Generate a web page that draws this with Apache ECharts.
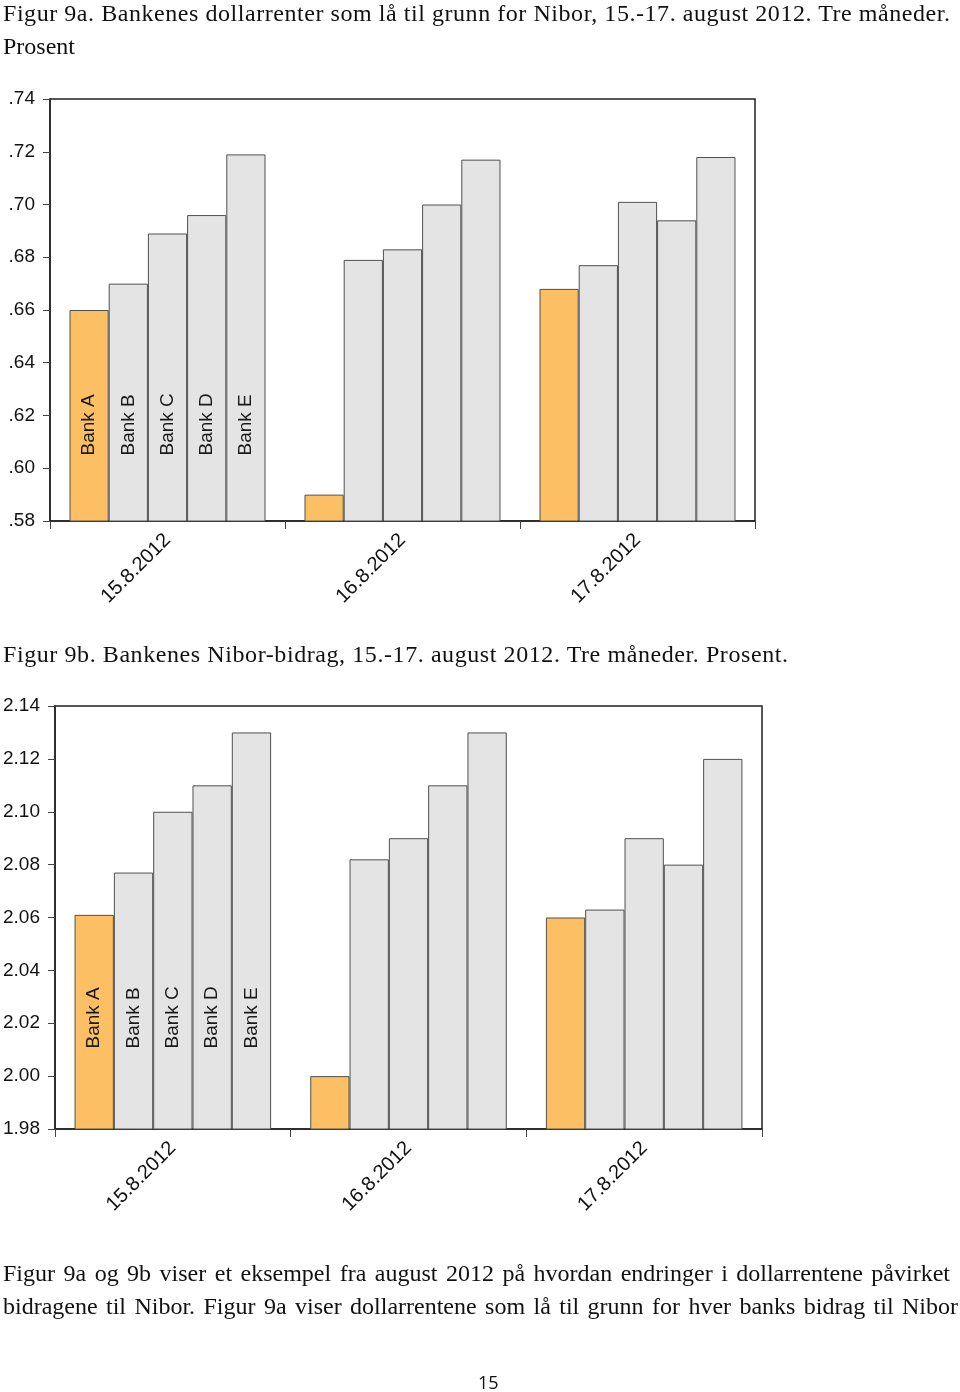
<!DOCTYPE html>
<html>
<head>
<meta charset="utf-8">
<script src="https://cdn.jsdelivr.net/npm/echarts@6/dist/echarts.min.js"></script>
<style>
body { margin: 0; background: #fff; }
#main { position: absolute; left: 0; top: 0; width: 960px; height: 1392px; }
.txt { position: absolute; left: 3px; font-family: "Liberation Serif", serif; font-size: 24px; color: #111; white-space: nowrap; line-height: 26px; }
.page { position: absolute; left: 478px; top: 1370px; font-family: "Open Sans", sans-serif; font-size: 18px; color: #111; }
</style>
</head>
<body>
<div id="main"></div>
<span class="txt" data-w="947" data-mode="letter" style="top:0px">Figur 9a. Bankenes dollarrenter som lå til grunn for Nibor, 15.-17. august 2012. Tre måneder.</span>
<span class="txt" style="top:33px">Prosent</span>
<span class="txt" data-w="785" data-mode="letter" style="top:641px">Figur 9b. Bankenes Nibor-bidrag, 15.-17. august 2012. Tre måneder. Prosent.</span>
<span class="txt" data-w="947" data-mode="word" style="top:1260px">Figur 9a og 9b viser et eksempel fra august 2012 på hvordan endringer i dollarrentene påvirket</span>
<span class="txt" data-w="955" data-mode="word" style="top:1293px">bidragene til Nibor. Figur 9a viser dollarrentene som lå til grunn for hver banks bidrag til Nibor</span>
<span class="page">15</span>
<script>
// kategorier og banker
var dates = ['15.8.2012', '16.8.2012', '17.8.2012'];
var banks = ['Bank A', 'Bank B', 'Bank C', 'Bank D', 'Bank E'];

// Figur 9a: dollarrenter (en liste per bank, verdier per dato)
var rate9aA = [0.660, 0.590, 0.668];
var rate9aB = [0.670, 0.679, 0.677];
var rate9aC = [0.689, 0.683, 0.701];
var rate9aD = [0.696, 0.700, 0.694];
var rate9aE = [0.719, 0.717, 0.718];

// Figur 9b: Nibor-bidrag
var rate9bA = [2.061, 2.000, 2.060];
var rate9bB = [2.077, 2.082, 2.063];
var rate9bC = [2.100, 2.090, 2.090];
var rate9bD = [2.110, 2.110, 2.080];
var rate9bE = [2.130, 2.130, 2.120];

// strekk tekstlinjene til samme bredde som i originalen
document.querySelectorAll('.txt[data-w]').forEach(function (el) {
    var target = +el.getAttribute('data-w');
    var w = el.getBoundingClientRect().width;
    var txt = el.textContent;
    if (w > target) {
        el.style.fontSize = (24 * target / w) + 'px';
        return;
    }
    if (el.getAttribute('data-mode') === 'word') {
        var gaps = txt.split(' ').length - 1;
        el.style.wordSpacing = ((target - w) / gaps) + 'px';
    } else {
        el.style.letterSpacing = ((target - w) / (txt.length - 1)) + 'px';
    }
});

var myChart = echarts.init(document.getElementById('main'));

var orange = '#FDBF63';
var grey = '#E4E4E4';
var sans = '"Liberation Sans", Arial, sans-serif';

// lager de fem bank-seriene for ett diagram
function makeSeries(lists, idx, dist) {
    return banks.map(function (b, i) {
        return {
            name: b,
            type: 'bar',
            xAxisIndex: idx,
            yAxisIndex: idx,
            data: lists[i],
            barGap: 0,
            barCategoryGap: '16.6%',
            silent: true,
            itemStyle: { color: i === 0 ? orange : grey, borderColor: '#505050', borderWidth: 1 },
            label: {
                show: true,
                position: 'insideBottom',
                rotate: 90,
                align: 'left',
                verticalAlign: 'middle',
                distance: dist,
                fontSize: 19,
                fontFamily: sans,
                color: '#1a1a1a',
                // bare navn i første gruppe
                formatter: function (p) { return p.dataIndex === 0 ? p.seriesName : ''; }
            }
        };
    });
}

function xAx(idx) {
    return {
        type: 'category',
        gridIndex: idx,
        data: dates,
        axisLine: { lineStyle: { color: '#222', width: 1.5 } },
        axisTick: { show: true, alignWithLabel: false, interval: 0, length: 8, lineStyle: { color: '#444' } },
        axisLabel: { rotate: 45, interval: 0, margin: 16, fontSize: 20, fontFamily: sans, color: '#111' }
    };
}

function yAx(idx, min, max, fmt) {
    return {
        type: 'value',
        gridIndex: idx,
        min: min,
        max: max,
        interval: 0.02,
        splitLine: { show: false },
        axisLine: { show: true, lineStyle: { color: '#222', width: 1.5 } },
        axisTick: { show: true, length: 7, lineStyle: { color: '#444' } },
        axisLabel: { margin: 15, fontSize: 19, fontFamily: sans, color: '#111', formatter: fmt }
    };
}

var option = {
    animation: false,
    grid: [
        { left: 50, top: 99, width: 705, height: 422, show: true, borderColor: '#222', borderWidth: 1.5 },
        { left: 55, top: 706, width: 707, height: 423, show: true, borderColor: '#222', borderWidth: 1.5 }
    ],
    xAxis: [xAx(0), xAx(1)],
    yAxis: [
        yAx(0, 0.58, 0.74, function (v) { return v.toFixed(2).replace(/^0/, ''); }),
        yAx(1, 1.98, 2.14, function (v) { return v.toFixed(2); })
    ],
    series: makeSeries([rate9aA, rate9aB, rate9aC, rate9aD, rate9aE], 0, 66)
        .concat(makeSeries([rate9bA, rate9bB, rate9bC, rate9bD, rate9bE], 1, 81))
};

myChart.setOption(option);
</script>
</body>
</html>
